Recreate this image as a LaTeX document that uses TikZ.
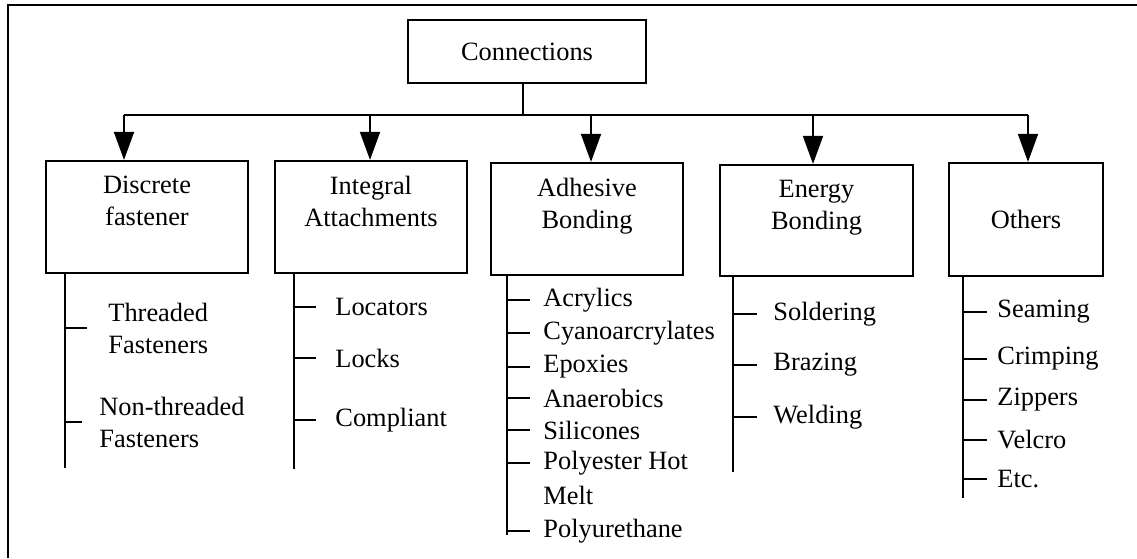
\documentclass[tikz,border=0pt]{standalone}
\usepackage{fontspec}
\setmainfont{Liberation Serif}
\usetikzlibrary{arrows.meta, positioning}

\tikzset{
  catbox/.style={draw, line width=1.1pt, align=center, inner sep=0pt}, % category boxes
  item/.style={anchor=west, inner sep=0pt, align=left},               % list entries
  spine/.style={line width=0.9pt},
  feed/.style={line width=0.9pt, -{Triangle[length=14pt, width=10pt]}}
}

\begin{document}
\begin{tikzpicture}[x=0.5pt, y=-0.5pt, font=\fontsize{13.2}{16}\selectfont]
    \useasboundingbox (0,0) rectangle (1137,558);

    % frame (only its top and left edges are in view)
    \draw[line width=1.2pt] (8,558) -- (8,5) -- (1137,5);

    % root and categories
    \node[catbox, minimum width=119pt, minimum height=31.5pt] (conn) at (527,51.5) {Connections};
    \node[catbox, minimum width=101pt, minimum height=56pt] (disc) at (147,217) {Discrete\\fastener\\\mbox{}};
    \node[catbox, minimum width=96pt, minimum height=56pt] (integ) at (371,217) {Integral\\Attachments\\\mbox{}};
    \node[catbox, minimum width=96pt, minimum height=56pt] (adh) at (587,219) {Adhesive\\Bonding\\\mbox{}};
    \node[catbox, minimum width=96.5pt, minimum height=55.5pt] (energy) at (816.5,220.5) {Energy\\Bonding\\\mbox{}};
    \node[catbox, minimum width=77pt, minimum height=56.5pt] (others) at (1026,219.5) {Others};

    % bus with arrows down to the categories
    \coordinate (bus) at (523,115);
    \draw[spine] (conn.south -| bus) -- (bus);
    \foreach \b/\x in {disc/124, integ/370, adh/591, energy/813, others/1028}
        \coordinate (tap-\b) at (\x,115);
    \draw[spine] (tap-disc) -- (tap-others);
    \foreach \b in {disc, integ, adh, energy, others}
        \draw[feed] (tap-\b) -- (tap-\b |- \b.north);

    % Discrete fastener
    \coordinate (disc-end) at (65,468);
    \draw[spine] (disc.south -| disc-end) -- (disc-end);
    \node[item] (thr) at (108,328) {Threaded\\Fasteners};
    \node[item] (nthr) at (99,422) {Non-threaded\\Fasteners};
    \draw[spine] (thr.west -| disc-end) -- ++(22,0);
    \draw[spine] (nthr.west -| disc-end) -- ++(17,0);

    % Integral Attachments
    \coordinate (integ-end) at (294,469);
    \draw[spine] (integ.south -| integ-end) -- (integ-end);
    \foreach \n/\y/\t in {loc/307/Locators, lock/358/Locks, comp/420/Compliant} {
        \node[item] (\n) at (335,\y) {\t};
        \draw[spine] (\n.west -| integ-end) -- ++(22,0);
    }

    % Adhesive Bonding
    \coordinate (adh-end) at (507,535);
    \draw[spine] (adh.south -| adh-end) -- (adh-end);
    \foreach \n/\y/\t in {acr/300/Acrylics, cya/333/Cyanoarcrylates, epo/367/Epoxies,
                          ana/398/Anaerobics, sil/430/Silicones, pol/463/Polyester Hot,
                          pur/531/Polyurethane} {
        \node[item] (\n) at (543,\y) {\t};
        \draw[spine] (\n.west -| adh-end) -- ++(23,0);
    }
    \node[item] (melt) at (543,495) {Melt};

    % Energy Bonding
    \coordinate (energy-end) at (733,472);
    \draw[spine] (energy.south -| energy-end) -- (energy-end);
    \foreach \n/\y/\t in {sold/314/Soldering, braz/365/Brazing, weld/417/Welding} {
        \node[item] (\n) at (773,\y) {\t};
        \draw[spine] (\n.west -| energy-end) -- ++(24,0);
    }

    % Others
    \coordinate (others-end) at (963,498);
    \draw[spine] (others.south -| others-end) -- (others-end);
    \foreach \n/\y/\t in {seam/312/Seaming, crimp/359/Crimping, zip/400/Zippers,
                          velc/440/Velcro, etc/479/Etc.} {
        \node[item] (\n) at (997,\y) {\t};
        \draw[spine] (\n.west -| others-end) -- ++(24,0);
    }

\end{tikzpicture}
\end{document}
